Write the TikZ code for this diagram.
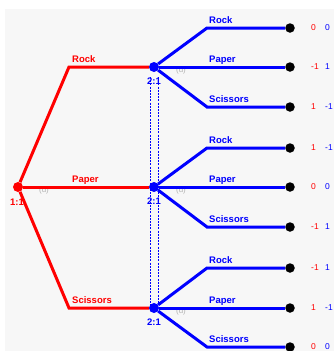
\documentclass[tikz,border=0pt]{standalone}
\usepackage{fontspec}
\setmainfont{Liberation Sans}
\usetikzlibrary{positioning}
\begin{document}
\begin{tikzpicture}[
    x=1pt, y=-1pt,
    every node/.style={align=center, inner sep=0pt},
    p1 line/.style={draw=red, line width=3pt},
    p2 line/.style={draw=blue, line width=3pt},
    info line/.style={draw=blue, line width=0.6pt, dash pattern=on 2pt off 1.2pt},
    p1 dot/.style={circle, fill=red, minimum size=10pt},
    p2 dot/.style={circle, fill=blue, minimum size=10pt},
    leaf dot/.style={circle, fill=black, minimum size=9.5pt},
    p1 text/.style={text=red, font=\fontsize{9.5}{10}\selectfont\bfseries},
    p2 text/.style={text=blue, font=\fontsize{9.5}{10}\selectfont\bfseries},
    chance text/.style={text=black!30, font=\fontsize{8}{9}\selectfont},
    pay1/.style={text=red, anchor=west, font=\fontsize{8.5}{9}\selectfont},
    pay2/.style={text=blue, anchor=west, font=\fontsize{8.5}{9}\selectfont},
    ]
\useasboundingbox (0,0) rectangle (334,351);
\fill[black!3] (5,9) rectangle (334,351);
\coordinate (isTopL) at (150.5,77);
\coordinate (isBotL) at (150.5,305);
\coordinate (isTopR) at (158,77);
\coordinate (isBotR) at (158,305);
\draw[info line] (isTopL) -- (isBotL);
\draw[info line] (isTopR) -- (isBotR);
\node[p1 dot] (root) at (18,187) {};
\node[p1 text] (rootLab) at (17,202) {1:1};
\node[chance text] (rootU) at (44,190) {(u)};
\coordinate (rockBend) at (69,67);
\coordinate (paperBend) at (69,187);
\coordinate (scissorsBend) at (69,308);
\node[p2 dot] (nR) at (154,67) {};
\node[p2 dot] (nP) at (154,187) {};
\node[p2 dot] (nS) at (154,308) {};
\draw[p1 line] (root) -- (rockBend) -- (nR);
\draw[p1 line] (root) -- (paperBend) -- (nP);
\draw[p1 line] (root) -- (scissorsBend) -- (nS);
\node[p1 text, anchor=base west] (rockLab) at ([xshift=3pt,yshift=5pt]rockBend) {Rock};
\node[p1 text, anchor=base west] (paperLab) at ([xshift=3pt,yshift=5pt]paperBend) {Paper};
\node[p1 text, anchor=base west] (scissorsLab) at ([xshift=3pt,yshift=5pt]scissorsBend) {Scissors};
\node[p2 text] (nRLab) at (154,81.5) {2:1};
\node[p2 text] (nPLab) at (154,201.5) {2:1};
\node[p2 text] (nSLab) at (154,322.5) {2:1};
\node[chance text] (nRU) at (181,70) {(u)};
\node[chance text] (nPU) at (181,190) {(u)};
\node[chance text] (nSU) at (181,311) {(u)};
\coordinate (bRR) at (207,28);
\coordinate (bRP) at (207,67);
\coordinate (bRS) at (207,107);
\coordinate (bPR) at (207,148);
\coordinate (bPP) at (207,187);
\coordinate (bPS) at (207,227);
\coordinate (bSR) at (207,268);
\coordinate (bSP) at (207,308);
\coordinate (bSS) at (207,347);
\node[leaf dot] (lRR) at (290,28) {};
\node[leaf dot] (lRP) at (290,67) {};
\node[leaf dot] (lRS) at (290,107) {};
\node[leaf dot] (lPR) at (290,148) {};
\node[leaf dot] (lPP) at (290,187) {};
\node[leaf dot] (lPS) at (290,227) {};
\node[leaf dot] (lSR) at (290,268) {};
\node[leaf dot] (lSP) at (290,308) {};
\node[leaf dot] (lSS) at (290,347) {};
\foreach \s in {R,P,S}{
  \draw[p2 line] (n\s) -- (b\s R) -- (l\s R);
  \draw[p2 line] (n\s) -- (b\s P) -- (l\s P);
  \draw[p2 line] (n\s) -- (b\s S) -- (l\s S);
  \node[p2 text, anchor=base west] (t\s R) at ([xshift=2pt,yshift=5pt]b\s R) {Rock};
  \node[p2 text, anchor=base west] (t\s P) at ([xshift=2pt,yshift=5pt]b\s P) {Paper};
  \node[p2 text, anchor=base west] (t\s S) at ([xshift=2pt,yshift=5pt]b\s S) {Scissors};
}
\foreach \l/\a/\b in {lRR/0/0, lRP/-1/1, lRS/1/-1, lPR/1/-1, lPP/0/0, lPS/-1/1, lSR/-1/1, lSP/1/-1, lSS/0/0}{
  \node[pay1] (\l a) at ([xshift=21pt]\l.center) {\a};
  \node[pay2] (\l b) at ([xshift=35pt]\l.center) {\b};
}
\end{tikzpicture}
\end{document}
